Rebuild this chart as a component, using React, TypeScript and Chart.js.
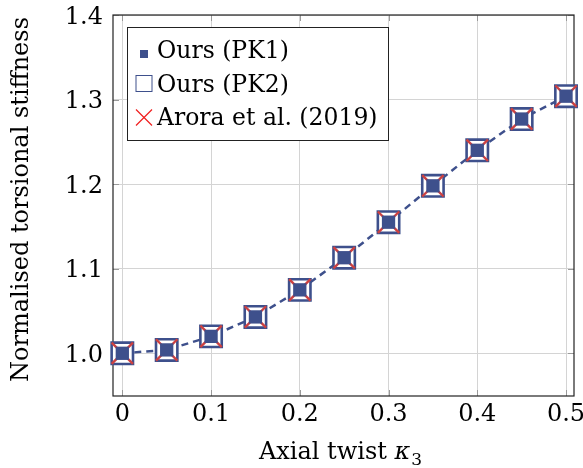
import React, { useEffect, useRef } from "react";
import { Chart, registerables } from "chart.js";
Chart.register(...registerables);

const twist = [0, 0.05, 0.1, 0.15, 0.2, 0.25, 0.3, 0.35, 0.4, 0.45, 0.5];
const stiffPK1 = [1.0, 1.004, 1.02, 1.043, 1.075, 1.113, 1.155, 1.198, 1.24, 1.277, 1.304];
const stiffPK2 = [1.0, 1.004, 1.02, 1.043, 1.075, 1.113, 1.155, 1.198, 1.24, 1.277, 1.304];
const stiffArora = [1.0, 1.004, 1.02, 1.043, 1.075, 1.113, 1.155, 1.198, 1.24, 1.277, 1.304];
const xTicks = [0, 0.1, 0.2, 0.3, 0.4, 0.5];
const xTickLabels = ["0", "0.1", "0.2", "0.3", "0.4", "0.5"];
const yTicks = [1.0, 1.1, 1.2, 1.3, 1.4];
const yTickLabels = ["1.0", "1.1", "1.2", "1.3", "1.4"];
const legendLabels = ["Ours (PK1)", "Ours (PK2)", "Arora et al. (2019)"];
const xTitle = "Axial twist ";
const xTitleSymbol = "κ";
const xTitleSub = "3";
const yTitle = "Normalised torsional stiffness";

const BLUE = "rgb(62,80,140)";
const RED = "rgb(205,65,65)";
const FONT = "'DejaVu Serif', serif";

const framePlugin = {
  id: "frame",
  beforeDatasetsDraw(chart: any) {
    const { ctx, chartArea: a, scales } = chart;
    ctx.save();
    ctx.strokeStyle = "#9a9a9a";
    ctx.lineWidth = 1;
    const tl = 6;
    ctx.beginPath();
    for (const v of xTicks) {
      const x = Math.round(scales.x.getPixelForValue(v)) + 0.5;
      ctx.moveTo(x, a.bottom);
      ctx.lineTo(x, a.bottom - tl);
      ctx.moveTo(x, a.top);
      ctx.lineTo(x, a.top + tl);
    }
    for (const v of yTicks) {
      const y = Math.round(scales.y.getPixelForValue(v)) + 0.5;
      ctx.moveTo(a.left, y);
      ctx.lineTo(a.left + tl, y);
      ctx.moveTo(a.right, y);
      ctx.lineTo(a.right - tl, y);
    }
    ctx.stroke();
    ctx.strokeStyle = "#222";
    ctx.lineWidth = 1.2;
    ctx.strokeRect(a.left, a.top, a.right - a.left, a.bottom - a.top);

    // tick labels (positioned by the scales)
    ctx.fillStyle = "#000";
    ctx.font = `24px ${FONT}`;
    ctx.textBaseline = "alphabetic";
    ctx.textAlign = "center";
    xTicks.forEach((v, i) => {
      ctx.fillText(xTickLabels[i], scales.x.getPixelForValue(v), a.bottom + 25);
    });
    ctx.textAlign = "right";
    yTicks.forEach((v, i) => {
      ctx.fillText(yTickLabels[i], a.left - 10, scales.y.getPixelForValue(v) + 8.7);
    });
    ctx.restore();
  },
  afterDraw(chart: any) {
    const { ctx, chartArea: a } = chart;
    ctx.save();
    // legend
    const lx = 127, ly = 27, lw = 261, lh = 113;
    ctx.fillStyle = "#fff";
    ctx.fillRect(lx, ly, lw, lh);
    ctx.strokeStyle = "#222";
    ctx.lineWidth = 1;
    ctx.strokeRect(lx + 0.5, ly + 0.5, lw, lh);
    ctx.font = `23.5px ${FONT}`;
    ctx.fillStyle = "#000";
    ctx.textBaseline = "alphabetic";
    ctx.textAlign = "left";
    const baselines = [58, 92, 125];
    const mcy = [54, 83.5, 117.5];
    const mx = 144;
    legendLabels.forEach((t, i) => ctx.fillText(t, 157, baselines[i]));
    ctx.fillStyle = BLUE;
    ctx.fillRect(mx - 4, mcy[0] - 4, 8, 8);
    ctx.strokeStyle = BLUE;
    ctx.lineWidth = 1;
    ctx.strokeRect(mx - 8, mcy[1] - 8, 16, 16);
    ctx.strokeStyle = "rgb(240,30,30)";
    ctx.lineWidth = 1.2;
    ctx.beginPath();
    ctx.moveTo(mx - 8, mcy[2] - 8);
    ctx.lineTo(mx + 8, mcy[2] + 8);
    ctx.moveTo(mx + 8, mcy[2] - 8);
    ctx.lineTo(mx - 8, mcy[2] + 8);
    ctx.stroke();

    // axis titles
    ctx.fillStyle = "#000";
    ctx.font = `24px ${FONT}`;
    const w1 = ctx.measureText(xTitle).width;
    ctx.font = `italic 24px ${FONT}`;
    const w2 = ctx.measureText(xTitleSymbol).width;
    ctx.font = `17px ${FONT}`;
    const w3 = ctx.measureText(xTitleSub).width;
    const cx = (a.left + a.right) / 2 - 3;
    const x0 = cx - (w1 + w2 + w3 + 1) / 2;
    ctx.font = `24px ${FONT}`;
    ctx.fillText(xTitle, x0, 459);
    ctx.font = `italic 24px ${FONT}`;
    ctx.fillText(xTitleSymbol, x0 + w1, 459);
    ctx.font = `17px ${FONT}`;
    ctx.fillText(xTitleSub, x0 + w1 + w2 + 1, 465);

    ctx.translate(22, (a.top + a.bottom) / 2 - 6);
    ctx.rotate(-Math.PI / 2);
    ctx.font = `24px ${FONT}`;
    ctx.textAlign = "center";
    ctx.textBaseline = "middle";
    ctx.fillText(yTitle, 0, 0);
    ctx.restore();
  },
};

export default function App() {
  const ref = useRef<HTMLCanvasElement>(null);
  useEffect(() => {
    document.body.style.margin = "0";
    const pts = (ys: number[]) => twist.map((x, i) => ({ x, y: ys[i] }));
    const chart = new Chart(ref.current!, {
      type: "scatter",
      data: {
        datasets: [
          {
            label: "line",
            data: pts(stiffPK1),
            showLine: true,
            borderColor: BLUE,
            borderWidth: 2.5,
            borderDash: [7, 5],
            pointRadius: 0,
            order: 4,
            clip: false,
          } as any,
          {
            label: legendLabels[1],
            data: pts(stiffPK2),
            pointStyle: "rect",
            pointRadius: 15.1,
            pointBackgroundColor: "#fff",
            pointBorderColor: BLUE,
            pointBorderWidth: 2.6,
            order: 3,
            clip: false,
          },
          {
            label: legendLabels[2],
            data: pts(stiffArora),
            pointStyle: "crossRot",
            pointRadius: 15.1,
            pointBorderColor: RED,
            pointBorderWidth: 2.4,
            order: 2,
            clip: false,
          },
          {
            label: legendLabels[0],
            data: pts(stiffPK1),
            pointStyle: "rect",
            pointRadius: 9.4,
            pointBackgroundColor: BLUE,
            pointBorderWidth: 0,
            order: 1,
            clip: false,
          },
        ],
      },
      options: {
        animation: false,
        responsive: false,
        events: [],
        layout: { autoPadding: false, padding: { top: 15, right: 9, left: 0, bottom: 0 } },
        plugins: { legend: { display: false }, tooltip: { enabled: false } },
        scales: {
          x: {
            type: "linear",
            min: -0.0105,
            max: 0.509,
            afterBuildTicks: (s: any) => {
              s.ticks = xTicks.map((v) => ({ value: v }));
            },
            afterFit: (s: any) => {
              s.height = 72;
            },
            ticks: { display: false },
            grid: { color: "#d4d4d4", lineWidth: 1, drawTicks: false },
            border: { display: false },
          },
          y: {
            type: "linear",
            min: 0.9495,
            max: 1.4,
            afterBuildTicks: (s: any) => {
              s.ticks = yTicks.map((v) => ({ value: v }));
            },
            afterFit: (s: any) => {
              s.width = 113;
            },
            ticks: { display: false },
            grid: { color: "#d4d4d4", lineWidth: 1, drawTicks: false },
            border: { display: false },
          },
        },
      },
      plugins: [framePlugin],
    });
    return () => chart.destroy();
  }, []);
  return (
    <div style={{ width: 583, height: 468 }}>
      <canvas ref={ref} width={583} height={468} />
    </div>
  );
}
